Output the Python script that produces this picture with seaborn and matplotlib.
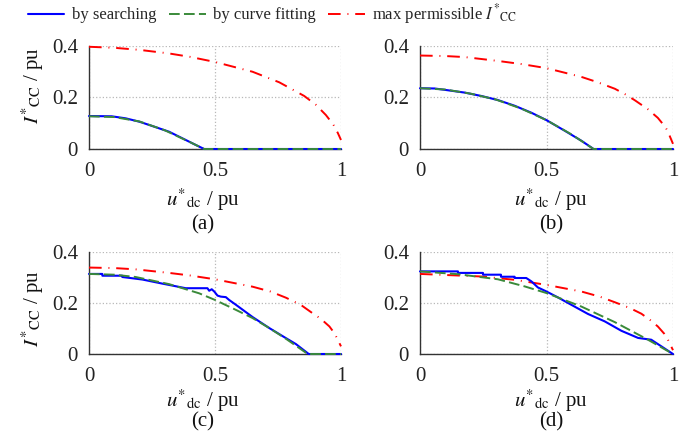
import numpy as np
import pandas as pd
import matplotlib
matplotlib.use("Agg")
import matplotlib.pyplot as plt
import seaborn as sns

# ---------------- data ----------------
# panel (a)
red_a_x = [0, 0.1, 0.2, 0.318, 0.4, 0.5, 0.649, 0.755, 0.854, 0.9, 0.94, 0.97, 0.987, 1.0]
red_a_y = [0.397, 0.393, 0.385, 0.371, 0.358, 0.338, 0.300, 0.259, 0.206, 0.172, 0.132, 0.094, 0.063, 0.035]
blue_a_x = [0, 0.09, 0.146, 0.2, 0.252, 0.318, 0.384, 0.424, 0.457, 1.0]
blue_a_y = [0.128, 0.127, 0.119, 0.106, 0.089, 0.067, 0.035, 0.0155, 0.0, 0.0]
green_a_x = [0, 0.1, 0.2, 0.3, 0.4, 0.457, 1.0]
green_a_y = [0.127, 0.124, 0.107, 0.073, 0.027, 0.0, 0.0]

# panel (b)
red_b_x = [0, 0.1, 0.177, 0.308, 0.4, 0.5, 0.638, 0.7, 0.77, 0.81, 0.848, 0.9, 0.94, 0.97, 0.98, 1.0]
red_b_y = [0.363, 0.361, 0.357, 0.342, 0.330, 0.314, 0.280, 0.260, 0.234, 0.213, 0.190, 0.155, 0.121, 0.085, 0.067, 0.02]
blue_b_x = [0, 0.058, 0.111, 0.177, 0.242, 0.308, 0.374, 0.44, 0.5, 0.572, 0.638, 0.686, 1.0]
blue_b_y = [0.236, 0.235, 0.228, 0.219, 0.206, 0.190, 0.168, 0.141, 0.112, 0.071, 0.032, 0.0, 0.0]
green_b_x = [0, 0.1, 0.2, 0.3, 0.4, 0.5, 0.6, 0.686, 1.0]
green_b_y = [0.236, 0.231, 0.215, 0.192, 0.157, 0.112, 0.056, 0.0, 0.0]

# panel (c)
red_c_x = [0, 0.1, 0.185, 0.318, 0.4, 0.5, 0.649, 0.72, 0.781, 0.84, 0.887, 0.92, 0.954, 0.975, 0.987, 1.0]
red_c_y = [0.339, 0.337, 0.332, 0.318, 0.308, 0.293, 0.264, 0.245, 0.221, 0.193, 0.160, 0.138, 0.108, 0.080, 0.056, 0.03]
blue_c_x = [0, 0.053, 0.053, 0.132, 0.132, 0.212, 0.291, 0.384, 0.47, 0.477, 0.487, 0.497,
            0.51, 0.523, 0.543, 0.556, 0.583, 0.649, 0.715, 0.781, 0.821, 0.872, 1.0]
blue_c_y = [0.314, 0.314, 0.307, 0.307, 0.302, 0.292, 0.276, 0.258, 0.258, 0.248, 0.254, 0.245,
            0.229, 0.225, 0.223, 0.212, 0.193, 0.145, 0.102, 0.0625, 0.039, 0.0, 0.0]
green_c_x = [0, 0.1, 0.185, 0.318, 0.437, 0.5, 0.583, 0.649, 0.715, 0.781, 0.868, 1.0]
green_c_y = [0.314, 0.311, 0.302, 0.274, 0.238, 0.212, 0.173, 0.141, 0.102, 0.06, 0.0, 0.0]

# panel (d)
red_d_x = [0, 0.242, 0.374, 0.5, 0.638, 0.71, 0.77, 0.83, 0.875, 0.91, 0.94, 0.965, 0.98, 1.0]
red_d_y = [0.314, 0.304, 0.291, 0.271, 0.245, 0.225, 0.203, 0.180, 0.158, 0.133, 0.108, 0.080, 0.056, 0.015]
blue_d_x = [0, 0.15, 0.15, 0.249, 0.249, 0.32, 0.32, 0.374, 0.374, 0.42, 0.44, 0.466, 0.5,
            0.545, 0.598, 0.664, 0.73, 0.796, 0.862, 0.914, 0.954, 1.0]
blue_d_y = [0.324, 0.324, 0.318, 0.318, 0.311, 0.311, 0.303, 0.303, 0.298, 0.298, 0.285, 0.261,
            0.245, 0.222, 0.193, 0.157, 0.128, 0.091, 0.063, 0.056, 0.030, 0.0]
green_d_x = [0, 0.15, 0.308, 0.414, 0.5, 0.638, 0.77, 0.901, 1.0]
green_d_y = [0.324, 0.313, 0.293, 0.265, 0.239, 0.186, 0.125, 0.056, 0.0]

panel_labels = ["(a)", "(b)", "(c)", "(d)"]
x_ticks = [0, 0.5, 1]
x_ticklabels = ["0", "0.5", "1"]
y_ticks = [0, 0.2, 0.4]
y_ticklabels = ["0", "0.2", "0.4"]
legend_labels = ["by searching", "by curve fitting", r"max permissible $I^{*}{}_{\mathrm{CC}}$"]

# ---------------- styling ----------------
sns.set_theme(style="white")
plt.rcParams["font.family"] = ["Liberation Serif", "DejaVu Serif"]
plt.rcParams["mathtext.fontset"] = "stix"

BLUE = "#0000ff"
GREEN = "#3a8a3a"
RED = "#ff0000"
FS = 15

fig = plt.figure(figsize=(6.97, 4.40), dpi=100)
W, H = 697, 440
boxes = [(89, 46, 341, 149), (420, 46, 673, 149), (89, 252, 341, 354), (420, 252, 673, 354)]
xlab_x = [203, 551, 203, 551]
xlab_y = [200, 200, 401, 401]
cap_y = [225, 225, 422, 422]
ylab_y = [86, 86, 309, 309]

panels = [
    (red_a_x, red_a_y, blue_a_x, blue_a_y, green_a_x, green_a_y),
    (red_b_x, red_b_y, blue_b_x, blue_b_y, green_b_x, green_b_y),
    (red_c_x, red_c_y, blue_c_x, blue_c_y, green_c_x, green_c_y),
    (red_d_x, red_d_y, blue_d_x, blue_d_y, green_d_x, green_d_y),
]

handles = None
for i, (box, pdata) in enumerate(zip(boxes, panels)):
    l, t, r, b = box
    ax = fig.add_axes([l / W, 1 - b / H, (r - l) / W, (b - t) / H])
    rx, ry, bx, by, gx, gy = pdata
    df_r = pd.DataFrame({"x": rx, "y": ry})
    df_b = pd.DataFrame({"x": bx, "y": by})
    df_g = pd.DataFrame({"x": gx, "y": gy})

    sns.lineplot(data=df_r, x="x", y="y", ax=ax, color=RED, lw=1.4,
                 estimator=None, sort=False, zorder=3)
    lr = ax.lines[-1]
    lr.set_dashes((6.5, 3.5, 0.5, 3.5))
    sns.lineplot(data=df_b, x="x", y="y", ax=ax, color=BLUE, lw=1.5,
                 estimator=None, sort=False, zorder=4)
    lb = ax.lines[-1]
    sns.lineplot(data=df_g, x="x", y="y", ax=ax, color=GREEN, lw=1.4,
                 estimator=None, sort=False, zorder=5)
    lg = ax.lines[-1]
    lg.set_dashes((5.5, 2.2))
    for ln in (lr, lb, lg):
        ln.set_clip_on(False)
    if handles is None:
        handles = [lb, lg, lr]

    ax.set_xlim(0, 1)
    ax.set_ylim(0, 0.4)
    ax.set_xticks(x_ticks)
    ax.set_xticklabels(x_ticklabels)
    ax.set_yticks(y_ticks)
    ax.set_yticklabels(y_ticklabels)
    ax.tick_params(axis="both", direction="in", length=3, width=0.8,
                   labelsize=FS, colors="#222222", labelcolor="#222222")
    ax.tick_params(axis="x", pad=9)
    ax.tick_params(axis="y", pad=8)
    ax.grid(True, linestyle=":", color="#b8b8b8", linewidth=0.9)
    for s in ("top", "right"):
        ax.spines[s].set_visible(False)
    for s in ("left", "bottom"):
        ax.spines[s].set_color("#333333")
        ax.spines[s].set_linewidth(1.0)
    ax.set_facecolor("white")

    ax.set_xlabel(r"$u^{*}{}_{\mathrm{dc}}$ / pu", fontsize=FS, color="#111111")
    ax.xaxis.label.set_va("center")
    ax.xaxis.set_label_coords((xlab_x[i] - l) / (r - l), -(xlab_y[i] - b) / (b - t))
    ax.text((xlab_x[i] - l) / (r - l), -(cap_y[i] - b) / (b - t), panel_labels[i],
            transform=ax.transAxes, ha="center", va="center", fontsize=FS, color="#111111")
    if i % 2 == 0:
        ax.set_ylabel(r"$I^{*}{}_{\mathrm{CC}}$ / pu", fontsize=FS, color="#111111")
        ax.yaxis.label.set_va("center")
        ax.yaxis.set_label_coords(-(l - 33) / (r - l), (b - ylab_y[i]) / (b - t))
    else:
        ax.set_ylabel("")

fig.legend(handles, legend_labels, loc="center left", bbox_to_anchor=(21 / W, 1 - 14 / H),
           ncol=3, frameon=False, fontsize=12, handlelength=2.2, handletextpad=0.45,
           columnspacing=0.75, borderaxespad=0)

fig.savefig("out.png", dpi=100, facecolor="white")
